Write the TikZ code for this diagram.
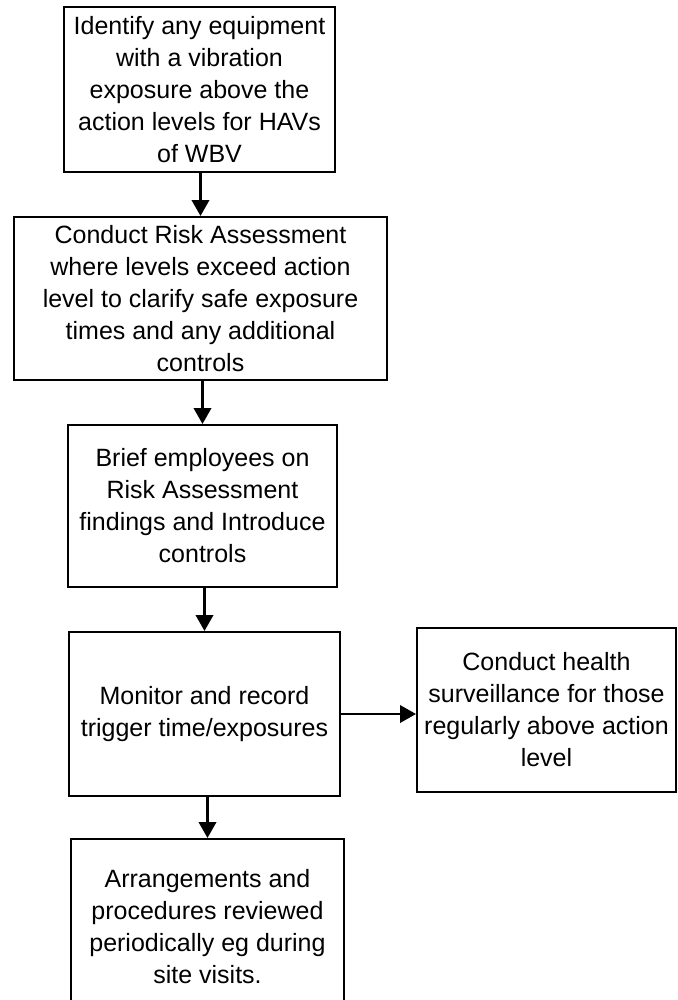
\documentclass[tikz,border=0pt]{standalone}
\usepackage{fontspec}
\setmainfont{Liberation Sans}
\usetikzlibrary{arrows.meta}
\begin{document}
\begin{tikzpicture}[x=0.75pt,y=-0.75pt,
  flowbox/.style={draw=black, line width=1.5pt, rectangle, align=center,
    inner sep=0pt, font=\fontsize{18.75pt}{24pt}\selectfont},
  flowarrow/.style={line width=2pt, -{Triangle[width=13pt,length=12pt]}}]
\useasboundingbox (0,0) rectangle (678,1000);

% process steps
\node[flowbox, minimum width=203.25pt, minimum height=123.75pt] (identify) at (199.5,89.5)
  {Identify any equipment\\with a vibration\\exposure above the\\action levels for HAVs\\of WBV};
\node[flowbox, minimum width=279.75pt, minimum height=122.25pt] (assess) at (200.5,298.5)
  {Conduct Risk Assessment\\where levels exceed action\\level to clarify safe exposure\\times and any additional\\controls};
\node[flowbox, minimum width=201.75pt, minimum height=121.5pt] (brief) at (202.5,506)
  {Brief employees on\\Risk Assessment\\findings and Introduce\\controls};
\node[flowbox, minimum width=203.25pt, minimum height=123pt] (monitor) at (204.5,714)
  {Monitor and record\\trigger time/exposures};
\node[flowbox, minimum width=194.25pt, minimum height=123pt] (health) at (546.5,710)
  {Conduct health\\surveillance for those\\regularly above action\\level};
\node[flowbox, minimum width=204.75pt, minimum height=132pt] (review) at (207.5,927)
  {Arrangements and\\procedures reviewed\\periodically eg during\\site visits.};

% connectors
\draw[flowarrow] (assess.north |- identify.south) -- (assess.north);
\draw[flowarrow] (brief.north |- assess.south) -- (brief.north);
\draw[flowarrow] (monitor.north |- brief.south) -- (monitor.north);
\draw[flowarrow] (monitor.east) -- (monitor.east -| health.west);
\draw[flowarrow] (review.north |- monitor.south) -- (review.north);
\end{tikzpicture}
\end{document}
